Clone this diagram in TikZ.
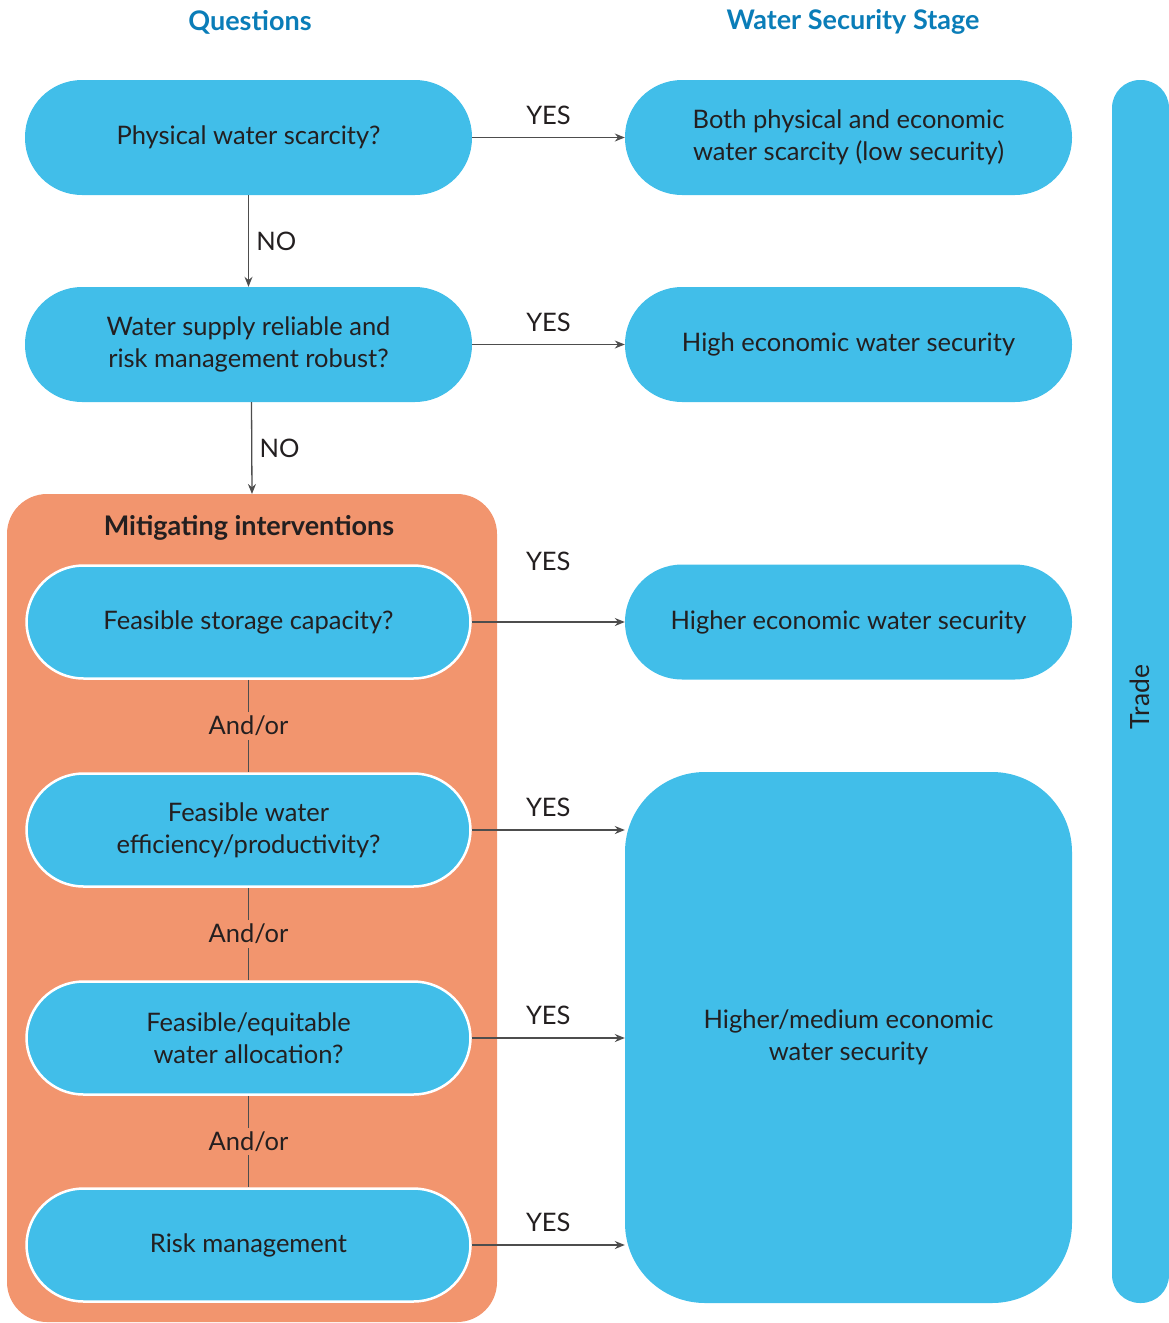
\documentclass[tikz,border=0pt]{standalone}
\usepackage{fontspec}
\setmainfont{Lato}
\usetikzlibrary{arrows.meta}
\definecolor{wblue}{HTML}{41BEE9}
\definecolor{worange}{HTML}{F2956E}
\definecolor{wtext}{HTML}{231F20}
\definecolor{whead}{HTML}{0A7DB8}
\definecolor{warrow}{HTML}{4D4D4D}
\tikzset{
  stadium/.style={fill=wblue, rounded corners=57pt, minimum width=447pt, minimum height=115pt,
    text=wtext, align=center, font=\fontsize{25.5}{32}\selectfont, inner sep=0pt},
  wstadium/.style={stadium, draw=white, line width=2.5pt, minimum width=444pt, minimum height=113pt},
  arr/.style={draw=warrow, line width=1.3pt, -{Stealth[length=10pt,width=8pt]}},
  plain/.style={draw=warrow, line width=1.3pt},
  yes/.style={above=9pt, text=wtext, font=\fontsize{25.5}{30}\selectfont},
  nolab/.style={right=4pt, text=wtext, font=\fontsize{25.5}{30}\selectfont},
  andor/.style={fill=worange, text=wtext, font=\fontsize{25.5}{30}\selectfont, inner sep=4pt},
  head/.style={text=whead, font=\fontsize{27}{30}\selectfont\bfseries},
}
\begin{document}
\begin{tikzpicture}[x=1pt,y=-1pt]
\useasboundingbox (0,0) rectangle (1169,1323);
% headers
\node[head] (hq) at (250,22) {Questions};
\node[head] (hw) at (853,22) {Water Security Stage};
% trade bar
\fill[wblue, rounded corners=28pt] (1112,80) rectangle (1169,1303);
\node[rotate=90, text=wtext, font=\fontsize{26.5}{30}\selectfont] (trade) at (1140,697) {Trade};
% orange box
\fill[worange, rounded corners=40pt] (7,494) rectangle (497,1322);
\coordinate (otop) at (252,494);
\node[text=wtext, font=\fontsize{27}{30}\selectfont\bfseries] (mit) at (249,528) {Mitigating interventions};
% question nodes
\node[stadium] (q1) at (248.5,137.5) {Physical water scarcity?};
\node[stadium] (q2) at (248.5,344.5) {Water supply reliable and\\risk management robust?};
\node[wstadium] (q3) at (248.5,622) {Feasible storage capacity?};
\node[wstadium] (q4) at (248.5,830) {Feasible water\\efficiency/productivity?};
\node[wstadium] (q5) at (248.5,1038) {Feasible/equitable\\water allocation?};
\node[wstadium] (q6) at (248.5,1245) {Risk management};
% result nodes
\node[stadium] (r1) at (848.5,137.5) {Both physical and economic\\water scarcity (low security)};
\node[stadium] (r2) at (848.5,344.5) {High economic water security};
\node[stadium] (r3) at (848.5,622) {Higher economic water security};
\node[stadium, rounded corners=80pt, minimum height=531pt] (r4) at (848.5,1037.5) {Higher/medium economic\\water security};
% connectors
\draw[arr] (q1.east) -- node[yes]{YES} (r1.west);
\draw[arr] (q2.east) -- node[yes]{YES} (r2.west);
\draw[arr] (q3.east) -- node[yes, above=38pt]{YES} (r3.west);
\draw[arr] (q4.east) -- node[yes]{YES} (q4.east -| r4.west);
\draw[arr] (q5.east) -- node[yes]{YES} (q5.east -| r4.west);
\draw[arr] (q6.east) -- node[yes]{YES} (q6.east -| r4.west);
\draw[arr] (q1.south) -- node[nolab]{NO} (q2.north);
\draw[arr] ([xshift=3pt]q2.south) -- node[nolab]{NO} (otop);
\draw[plain] (q3.south) -- node[andor]{And/or} (q4.north);
\draw[plain] (q4.south) -- node[andor]{And/or} (q5.north);
\draw[plain] (q5.south) -- node[andor]{And/or} (q6.north);
\end{tikzpicture}
\end{document}
